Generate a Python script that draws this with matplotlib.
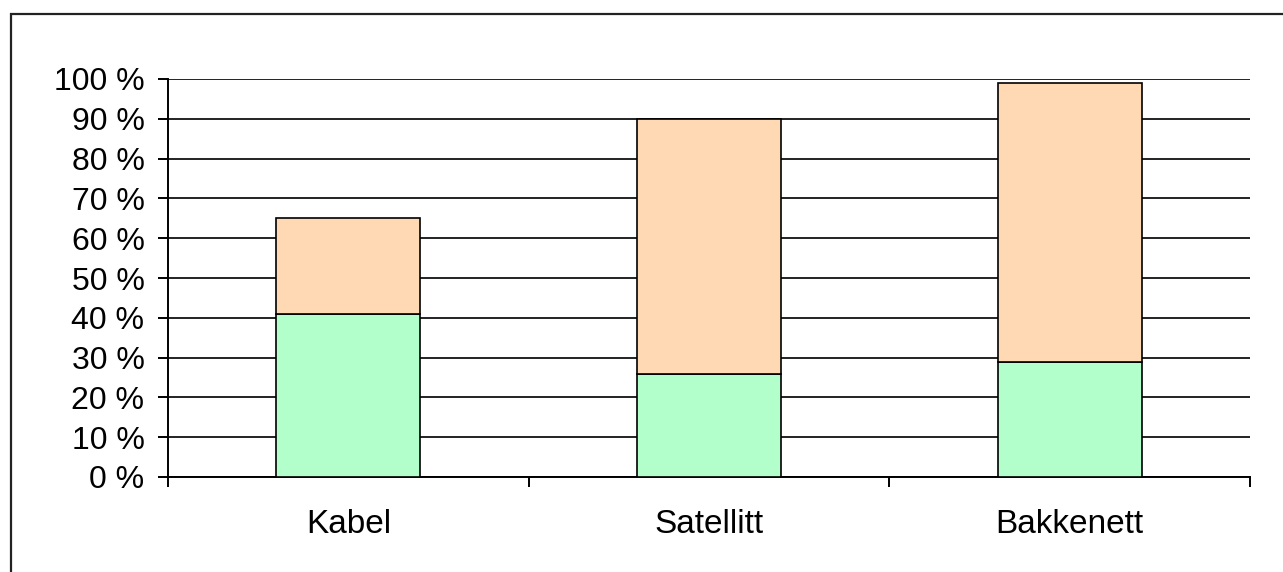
import matplotlib.pyplot as plt
from matplotlib.patches import Rectangle

# andeler i prosent
kategorier = ["Kabel", "Satellitt", "Bakkenett"]
nedre = [41, 26, 29]
totalt = [65, 90, 99]
øvre = [t - n for t, n in zip(totalt, nedre)]
y_ticks = list(range(0, 101, 10))
y_etiketter = [f"{v} %" for v in y_ticks]

plt.rcParams['font.family'] = ['Liberation Sans', 'DejaVu Sans']

fig = plt.figure(figsize=(12.83, 5.72), dpi=100)
ax = fig.add_axes([168 / 1283, 95 / 572, (1250 - 168) / 1283, (477 - 79) / 572])

# ramme rundt hele figuren (bare topp og venstre synlig)
fig.patches.append(Rectangle((11 / 1283, -0.1), 1.2, (572 - 14) / 572 + 0.1,
                             transform=fig.transFigure, fill=False,
                             edgecolor="#222222", linewidth=1.6))

x = list(range(len(kategorier)))
ax.bar(x, nedre, width=0.4, color="#B3FFCC", edgecolor="black", linewidth=1.2, zorder=3)
ax.bar(x, øvre, bottom=nedre, width=0.4, color="#FFD9B3", edgecolor="black", linewidth=1.2, zorder=3)

ax.set_xlim(-0.5, 2.5)
ax.set_ylim(0, 100)
ax.set_yticks(y_ticks)
ax.set_yticklabels(y_etiketter)
ax.set_xticks(x)
ax.set_xticklabels(kategorier)
ax.set_xticks([-0.5, 0.5, 1.5, 2.5], minor=True)

ax.yaxis.grid(True, color="#222222", linewidth=1.4, zorder=0)
ax.set_axisbelow(True)

for side in ["top", "right"]:
    ax.spines[side].set_visible(False)
ax.spines["left"].set_linewidth(1.4)
ax.spines["bottom"].set_linewidth(1.4)

ax.tick_params(axis="y", length=7, width=1.4, pad=10, labelsize=23)
ax.tick_params(axis="x", which="major", length=0, pad=23, labelsize=24)
ax.tick_params(axis="x", which="minor", length=7, width=1.4)

fig.savefig("out.png", dpi=100)
